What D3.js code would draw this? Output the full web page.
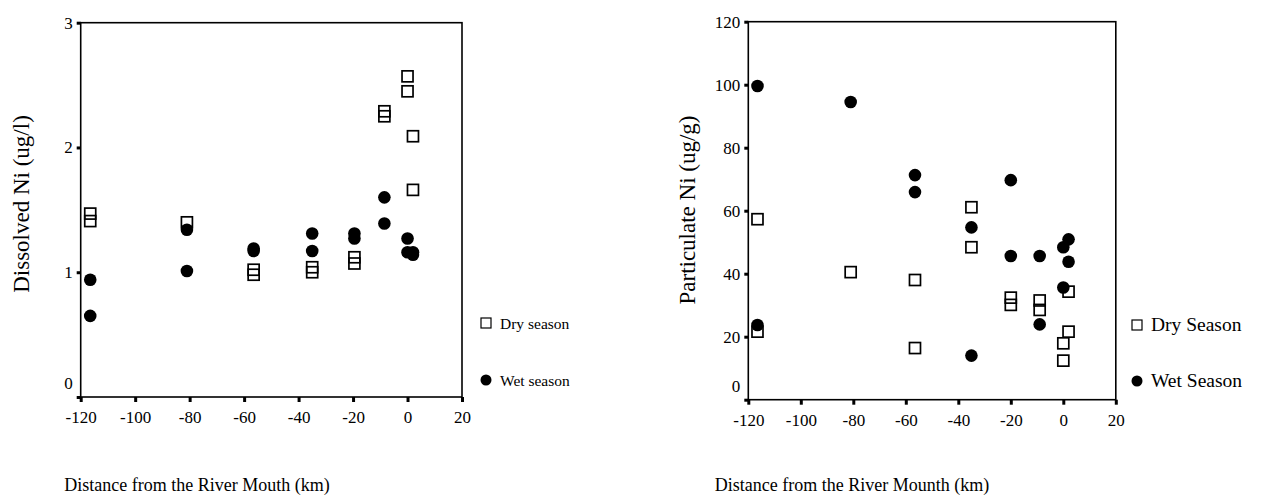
<!DOCTYPE html>
<html>
<head>
<meta charset="utf-8">
<script src="https://cdn.jsdelivr.net/npm/d3@7"></script>
<style>
  html, body { margin: 0; padding: 0; background: #fff; }
  svg { display: block; }
  text { font-family: "Liberation Serif", "Times New Roman", serif; fill: #000; }
</style>
</head>
<body>
<svg id="chart" width="1261" height="501"></svg>
<script>
// Distance from the river mouth (km), shared by both panels
const distanceTicks = [-120, -100, -80, -60, -40, -20, 0, 20];

// Dissolved Ni (ug/l)
const dissolvedTicks = [0, 1, 2, 3];
const dissolvedDryKm = [-116.5, -116.5, -81, -56.5, -56.5, -35, -35, -19.5, -19.5, -8.5, -8.5, 0, 0, 2, 2];
const dissolvedDryNi = [1.47, 1.41, 1.40, 1.02, 0.98, 1.04, 1.00, 1.12, 1.07, 2.29, 2.25, 2.57, 2.45, 2.09, 1.66];
const dissolvedWetKm = [-116.5, -116.5, -81, -81, -56.5, -56.5, -35, -35, -19.5, -19.5, -8.5, -8.5, 0, 0, 2, 2];
const dissolvedWetNi = [0.94, 0.65, 1.34, 1.01, 1.19, 1.17, 1.31, 1.17, 1.31, 1.27, 1.60, 1.39, 1.27, 1.16, 1.16, 1.14];

// Particulate Ni (ug/g)
const particulateTicks = [0, 20, 40, 60, 80, 100, 120];
const particulateDryKm = [-116.5, -116.5, -81, -56.5, -56.5, -35, -35, -20, -20, -9, -9, 0, 0, 2, 2];
const particulateDryNi = [57.3, 21.6, 40.5, 38.0, 16.4, 61.1, 48.4, 32.4, 30.1, 31.5, 28.5, 17.9, 12.4, 34.3, 21.6];
const particulateWetKm = [-116.5, -116.5, -81, -56.5, -56.5, -35, -35, -20, -20, -9, -9, 0, 0, 2, 2];
const particulateWetNi = [99.6, 23.7, 94.5, 71.3, 65.9, 54.7, 14.0, 69.7, 45.6, 45.6, 23.9, 48.4, 35.6, 50.9, 43.8];

const svg = d3.select("#chart");

function zip(xs, ys) { return xs.map((x, i) => ({ x, y: ys[i] })); }

function drawPanel(opt) {
  const x = d3.scaleLinear().domain([-120, 20]).range([opt.left, opt.right]);
  const y = d3.scaleLinear().domain([0, opt.yMax]).range([opt.bottom, opt.top]);
  const g = svg.append("g");

  // frame
  g.append("rect")
    .attr("x", opt.left).attr("y", opt.top)
    .attr("width", opt.right - opt.left).attr("height", opt.bottom - opt.top)
    .attr("fill", "none").attr("stroke", "#000").attr("stroke-width", 1.6);

  // x axis
  const xAxis = g.append("g")
    .attr("transform", `translate(0,${opt.bottom})`)
    .call(d3.axisBottom(x).tickValues(distanceTicks).tickSize(5).tickPadding(9).tickFormat(d3.format("d")));
  // y axis
  const yAxis = g.append("g")
    .attr("transform", `translate(${opt.left},0)`)
    .call(d3.axisLeft(y).tickValues(opt.yTicks).tickSize(4).tickPadding(4).tickFormat(d3.format("d")));

  [xAxis, yAxis].forEach(a => {
    a.select(".domain").remove();
    a.selectAll(".tick line").attr("stroke", "#000").attr("stroke-width", 3);
    a.selectAll(".tick text").style("font-size", "17px").attr("font-family", null);
  });
  xAxis.selectAll(".tick text").text(d => d < 0 ? "-" + Math.abs(d) : d);
  // the zero label sits a little above its tick
  yAxis.selectAll(".tick").filter(d => d === 0).select("text").attr("dy", "-0.5em");

  // wet season: filled circles
  g.append("g").selectAll("circle")
    .data(zip(opt.wetKm, opt.wetNi)).join("circle")
    .attr("cx", d => x(d.x)).attr("cy", d => y(d.y)).attr("r", 6.3)
    .attr("fill", "#000");

  // dry season: open squares
  const s = 11;
  g.append("g").selectAll("rect")
    .data(zip(opt.dryKm, opt.dryNi)).join("rect")
    .attr("x", d => x(d.x) - s / 2).attr("y", d => y(d.y) - s / 2)
    .attr("width", s).attr("height", s)
    .attr("fill", "none").attr("stroke", "#000").attr("stroke-width", 1.7);

  // y title
  g.append("text")
    .attr("transform", `translate(${opt.yTitleX},${opt.yTitleY}) rotate(-90)`)
    .attr("text-anchor", "middle")
    .style("font-size", "23px")
    .text(opt.yTitle);

  // x title
  g.append("text")
    .attr("x", opt.xTitleX).attr("y", 491)
    .attr("text-anchor", "middle")
    .style("font-size", "18px")
    .text(opt.xTitle);

  // legend
  const lg = g.append("g").style("font-size", opt.legendFont + "px");
  lg.append("rect")
    .attr("x", opt.legendX - 5).attr("y", opt.legendY1 - 5)
    .attr("width", 10).attr("height", 10)
    .attr("fill", "none").attr("stroke", "#000").attr("stroke-width", 1.2);
  lg.append("text").attr("x", opt.legendX + 14).attr("y", opt.legendY1 + 6).text(opt.dryLabel);
  lg.append("circle").attr("cx", opt.legendX).attr("cy", opt.legendY2).attr("r", 5.5).attr("fill", "#000");
  lg.append("text").attr("x", opt.legendX + 14).attr("y", opt.legendY2 + 6).text(opt.wetLabel);
}

drawPanel({
  left: 80.7, right: 462, top: 22.7, bottom: 397, yMax: 3, yTicks: dissolvedTicks,
  dryKm: dissolvedDryKm, dryNi: dissolvedDryNi, wetKm: dissolvedWetKm, wetNi: dissolvedWetNi,
  yTitle: "Dissolved Ni (ug/l)", yTitleX: 29, yTitleY: 204,
  xTitle: "Distance from the River Mouth (km)", xTitleX: 197,
  legendX: 486, legendY1: 323, legendY2: 380, legendFont: 15.5,
  dryLabel: "Dry season", wetLabel: "Wet season"
});

drawPanel({
  left: 748.3, right: 1115.8, top: 21.7, bottom: 399.7, yMax: 120, yTicks: particulateTicks,
  dryKm: particulateDryKm, dryNi: particulateDryNi, wetKm: particulateWetKm, wetNi: particulateWetNi,
  yTitle: "Particulate Ni (ug/g)", yTitleX: 695, yTitleY: 210,
  xTitle: "Distance from the River Mounth (km)", xTitleX: 852,
  legendX: 1137, legendY1: 325, legendY2: 381, legendFont: 19.5,
  dryLabel: "Dry Season", wetLabel: "Wet Season"
});
</script>
</body>
</html>
